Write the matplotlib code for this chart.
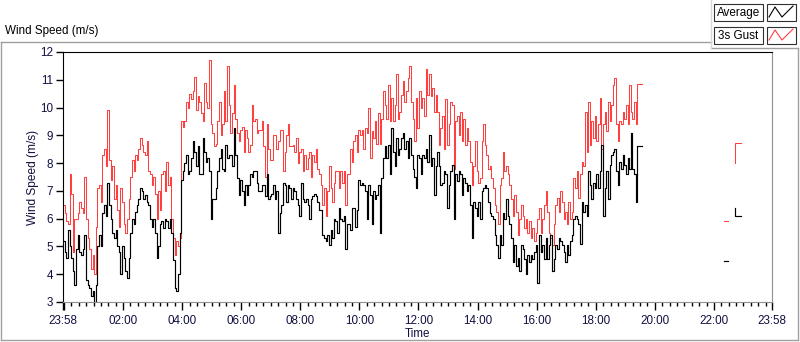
import numpy as np
import matplotlib
matplotlib.use("Agg")
import matplotlib.pyplot as plt
from matplotlib.patches import Rectangle

plt.rcParams['font.family'] = ['Liberation Sans', 'DejaVu Sans']

# readings every 1/18 h (3 min 20 s), first one at 23:58 the day before
start_hour = -2 / 60
step_hour = 1 / 18

avg_speed = [
    5.2, 4.8, 4.6, 5.6, 5.0, 4.6, 4.1, 3.6, 4.9, 5.4,
    4.8, 4.7, 4.9, 5.4, 3.8, 3.6, 3.5, 3.2, 3.4, 3.0,
    3.6, 5.0, 5.4, 5.0, 6.2, 6.5, 6.1, 7.3, 6.5, 6.0,
    5.5, 5.3, 5.6, 5.0, 4.8, 4.0, 5.0, 4.6, 4.1, 3.85,
    4.6, 5.5, 6.0, 5.8, 6.25, 6.5, 6.7, 7.1, 7.0, 6.7,
    6.85, 6.6, 6.5, 6.0, 5.7, 6.0, 5.5, 4.6, 5.0, 5.8,
    5.9, 5.65, 6.0, 5.9, 5.65, 6.0, 5.5, 4.5, 3.5, 3.4,
    4.0, 5.5, 7.4, 7.7, 8.0, 8.3, 7.6, 7.7, 8.2, 8.8,
    8.4, 7.9, 8.6, 7.6, 7.6, 8.9, 8.4, 8.05, 8.2, 7.7,
    6.0, 6.7, 6.7, 7.1, 7.7, 8.2, 8.5, 7.8, 7.7, 8.65,
    8.2, 8.3, 8.3, 7.9, 9.25, 8.3, 7.45, 6.85, 7.4, 7.0,
    6.5, 7.2, 6.85, 7.2, 7.6, 7.5, 7.7, 7.7,
    7.3, 7.0, 7.0, 7.2, 7.2, 6.8, 7.6, 6.7, 6.8, 6.9,
    7.2, 6.7, 7.0, 5.5, 6.2, 6.5, 7.3, 7.2, 6.6, 7.2,
    7.1, 6.7, 7.1, 7.0, 6.7, 6.5, 6.1, 7.3, 6.7, 6.6,
    6.7, 6.5, 6.0, 6.7, 6.8, 6.9, 6.8, 6.6, 6.3, 6.3,
    5.4, 5.3, 5.2, 5.4, 5.05, 5.6, 5.3, 6.0, 5.9, 5.5,
    6.4, 6.0, 5.9, 6.1, 4.9, 5.8, 5.8, 5.6,
    6.4, 6.4, 5.7, 6.3, 7.4, 7.2, 7.3, 7.2, 7.0, 6.0,
    7.2, 6.85, 5.8, 7.0, 6.7, 6.85, 7.2, 5.5, 7.45, 8.2,
    8.6, 8.2, 8.65, 7.6, 9.25, 8.4, 7.9, 8.9, 8.3, 8.5,
    8.9, 9.1, 8.5, 8.8, 8.2, 8.9, 8.3, 7.8, 7.5, 7.1,
    8.3, 8.2, 7.6, 8.3, 8.2, 8.5, 8.05, 9.0, 7.9, 8.2,
    6.85, 7.9, 8.4, 7.9, 7.2, 7.3, 7.7, 7.6,
    6.4, 7.2, 7.7, 7.95, 6.0, 7.6, 7.35, 7.7, 7.6, 6.85,
    7.45, 7.3, 7.0, 7.2, 6.5, 5.3, 6.6, 6.4, 6.1, 6.6,
    6.0, 7.0, 7.1, 7.2, 7.1, 6.6, 6.2, 6.1, 6.0, 5.4,
    5.05, 4.6, 5.4, 5.05, 6.2, 6.0, 6.7, 6.1, 5.8, 5.3,
    4.45, 5.05, 4.3, 4.6, 4.1, 5.05, 4.9, 4.55, 4.0, 4.7,
    4.45, 4.7, 4.55, 4.8, 5.05, 3.7, 5.4,
    4.8, 5.05, 4.55, 5.3, 4.55, 5.05, 5.4, 4.1, 4.55, 5.05,
    4.9, 5.3, 5.2, 5.05, 4.8, 4.45, 5.05, 4.7, 5.2, 5.4,
    6.0, 6.1, 6.0, 5.8, 5.1, 6.6, 6.25, 6.5, 6.1, 7.7,
    7.2, 6.7, 7.3, 7.1, 7.6, 7.1, 7.7, 8.65, 6.1, 7.1,
    7.7, 6.7, 7.95, 8.3, 8.4, 8.5, 7.7, 7.2, 8.05, 7.8,
    8.3, 7.95, 7.6, 8.2, 7.8, 9.1, 7.8, 7.6, 6.6,
    8.63, 8.63, 8.63, 8.63,
]

gust_speed = [
    6.5, 6.2, 5.9, 5.8, 7.6, 6.9, 4.8, 6.0, 6.0, 6.2,
    6.6, 6.4, 6.2, 7.5, 6.0, 5.3, 4.9, 4.2, 4.7, 4.0,
    5.7, 7.1, 7.2, 6.6, 8.3, 8.5, 7.9, 9.9, 8.1, 7.4,
    7.9, 6.7, 7.2, 6.3, 5.7, 7.1, 6.6, 5.8, 5.5, 6.0,
    6.7, 7.5, 8.1, 7.7, 8.3, 8.1, 8.5, 8.9, 8.65, 8.4,
    8.3, 8.8, 7.7, 7.6, 7.2, 7.5, 6.9, 6.0, 7.0, 6.3,
    7.6, 7.7, 7.0, 8.05, 7.2, 7.5, 6.0, 5.3, 4.7, 5.2,
    5.0, 5.3, 9.5, 9.3, 9.5, 10.2, 10.0, 10.5, 10.3, 10.6,
    11.1, 9.9, 10.4, 10.2, 9.8, 9.5, 10.9, 10.2, 10.0, 11.7,
    9.4, 9.1, 8.6, 8.7, 9.5, 10.2, 9.0, 9.4, 10.6, 9.5,
    11.5, 10.1, 9.1, 9.8, 10.8, 9.6, 9.1, 8.8, 9.2, 9.3,
    8.4, 9.2, 8.9, 8.4, 8.65, 10.1, 9.5, 9.6,
    9.1, 9.2, 9.2, 9.5, 8.6, 7.5, 9.4, 8.5, 8.1, 8.1,
    9.0, 9.0, 8.5, 8.8, 9.2, 9.2, 7.7, 8.4, 9.0, 9.4,
    8.6, 8.6, 8.65, 8.4, 8.9, 8.0, 8.4, 8.5, 7.7, 8.3,
    7.8, 8.2, 8.4, 7.5, 8.3, 8.05, 8.5, 7.8, 7.6, 7.2,
    6.5, 7.1, 6.1, 7.0, 7.9, 7.1, 6.6, 7.3, 7.7, 7.7,
    7.1, 7.7, 7.3, 7.7, 6.5, 7.6, 7.6, 8.5,
    8.05, 8.8, 9.0, 8.4, 9.2, 9.0, 9.2, 8.5, 9.25, 9.1,
    10.0, 8.2, 9.15, 8.9, 9.5, 8.7, 9.8, 8.7, 9.6, 10.6,
    10.1, 9.6, 10.8, 9.5, 10.35, 9.5, 10.1, 11.2, 9.6, 9.85,
    10.45, 10.95, 10.2, 10.6, 11.05, 11.5, 10.2, 9.6, 8.8, 10.35,
    9.25, 10.6, 10.0, 10.35, 9.7, 11.4, 10.45, 11.2, 10.4, 10.7,
    9.85, 10.45, 9.85, 8.65, 9.25, 9.7, 8.5, 10.3,
    8.65, 9.4, 10.2, 10.1, 7.8, 9.5, 9.7, 9.0, 9.85, 8.8,
    9.6, 8.65, 9.25, 8.8, 8.05, 7.2, 7.9, 8.8, 7.7, 7.3,
    7.45, 8.8, 9.4, 8.65, 8.3, 7.8, 7.9, 7.45, 7.1, 6.5,
    6.25, 5.8, 7.2, 7.45, 8.4, 7.7, 7.9, 7.6, 7.2, 6.7,
    6.1, 6.85, 6.25, 5.4, 6.0, 6.5, 6.1, 5.65, 6.0, 5.5,
    5.9, 5.3, 5.65, 5.2, 5.5, 6.0, 6.4,
    5.5, 6.0, 6.5, 7.0, 6.25, 5.5, 5.3, 5.05, 5.8, 6.5,
    6.75, 6.25, 7.0, 6.6, 6.0, 6.25, 5.8, 6.6, 6.0, 6.25,
    7.45, 7.1, 7.7, 6.75, 7.6, 8.05, 7.9, 9.85, 8.4, 10.2,
    8.65, 9.5, 8.9, 9.7, 8.8, 9.4, 10.35, 8.5, 9.4, 9.85,
    9.15, 10.2, 9.5, 10.1, 10.8, 11.05, 9.4, 8.8, 9.5, 9.4,
    9.85, 9.6, 10.1, 9.4, 10.8, 9.85, 9.6, 10.2, 9.4,
    10.85, 10.85, 10.85, 10.85,
]

# stray samples late in the evening
late_hours = [22.33, 22.48, np.nan, 22.72, 22.72, 22.92]
late_avg = [4.46, 4.46, np.nan, 6.39, 6.08, 6.08]
late_gust = [5.9, 5.9, np.nan, 8.0, 8.72, 8.72]

tick_hours = [-2 / 60, 0] + list(range(2, 24, 2)) + [24 - 2 / 60]
tick_labels = ['23:58', ''] + ['%02d:00' % h for h in range(2, 24, 2)] + ['23:58']

hours = start_hour + step_hour * np.arange(len(avg_speed))

W, H = 800, 342
fig = plt.figure(figsize=(W / 100, H / 100), dpi=100, facecolor='white')

# panel decoration in pixel coordinates
deco = fig.add_axes([0, 0, 1, 1], zorder=0)
deco.set_xlim(0, W)
deco.set_ylim(H, 0)
deco.axis('off')
frame = '#a0a0a0'
deco.plot([1, 711], [42, 42], color=frame, lw=1)
deco.plot([1, 1], [42, 340], color=frame, lw=1)
deco.plot([1, 798], [340, 340], color=frame, lw=1)
deco.plot([798, 798], [48, 340], color=frame, lw=1)
deco.plot([711, 798], [48, 48], color=frame, lw=1)
deco.plot([711, 711], [0, 48], color='#d8d8d8', lw=1)
deco.text(5, 31, 'Wind Speed (m/s)', fontsize=8.4, ha='left', va='center', color='black')

for row, (name, col) in enumerate([('Average', 'black'), ('3s Gust', '#ff4040')]):
    y0 = 4 + row * 23
    deco.add_patch(Rectangle((714, y0), 49, 17, fc='white', ec='#303030', lw=0.8))
    deco.add_patch(Rectangle((767, y0), 29, 17, fc='white', ec='#303030', lw=0.8))
    deco.text(738.5, y0 + 9, name, fontsize=8.4, ha='center', va='center', color='black')
    deco.plot([769, 775, 782, 793], [y0 + 13, y0 + 3, y0 + 13, y0 + 2], color=col, lw=0.8)

ax = fig.add_axes([63 / W, 1 - 302 / H, 709 / W, 250 / H], zorder=1)
ax.plot(hours, gust_speed, color='#ff4040', lw=0.75, drawstyle='steps-post')
ax.plot(hours, avg_speed, color='black', lw=0.85, drawstyle='steps-post')
ax.plot(late_hours, late_gust, color='#ff4040', lw=0.75)
ax.plot(late_hours, late_avg, color='black', lw=0.85)

ax.set_xlim(tick_hours[0], tick_hours[-1])
ax.set_ylim(3, 12)
ax.set_yticks(range(3, 13))
ax.set_xticks(tick_hours)
ax.set_xticklabels(tick_labels)
ax.set_xticks([m for m in np.arange(0, 24, 0.25) if m % 2 != 0], minor=True)

txt = '#101040'
ax.tick_params(axis='y', direction='out', length=5, width=1, pad=2, labelsize=8.4, labelcolor=txt)
ax.tick_params(axis='x', which='major', direction='out', length=6, width=1, pad=3, labelsize=8.4, labelcolor=txt)
ax.tick_params(axis='x', which='minor', direction='out', length=3, width=1)

for side in ['top', 'left']:
    ax.spines[side].set_color('black')
for side in ['right', 'bottom']:
    ax.spines[side].set_color('#909090')

ax.set_xlabel('Time', fontsize=8.4, color=txt)
ax.xaxis.set_label_coords(0.5, -0.105)
ax.set_ylabel('Wind Speed (m/s)', fontsize=8.6, color=txt)
ax.yaxis.set_label_coords(-0.034, 0.5)

fig.savefig('out.png', dpi=100, facecolor='white')
